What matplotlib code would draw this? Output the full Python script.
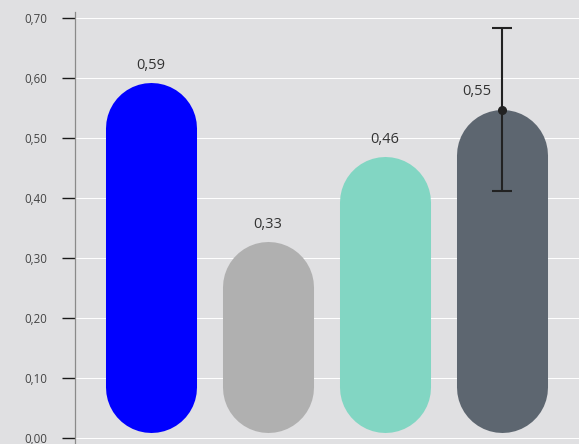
import matplotlib
matplotlib.use("Agg")
import matplotlib.pyplot as plt

plt.rcParams['font.family'] = ['Open Sans', 'DejaVu Sans']

# data
categories = ["A", "B", "C", "D"]
values = [0.593, 0.328, 0.469, 0.547]
value_labels = ["0,59", "0,33", "0,46", "0,55"]
colors = ["#0000ff", "#b0b0b0", "#82d6c3", "#5d6670"]
err_index = 3
err_size = 0.136
bar_base = 0.009
yticks = [0.0, 0.1, 0.2, 0.3, 0.4, 0.5, 0.6, 0.7]
ytick_labels = ["0,00", "0,10", "0,20", "0,30", "0,40", "0,50", "0,60", "0,70"]

W, H, DPI = 579, 444, 100
bg = "#e0e0e2"

fig = plt.figure(figsize=(W / DPI, H / DPI), dpi=DPI, facecolor=bg)
ax = fig.add_axes([75 / W, 0, 1 - 75 / W, 1 - 12 / H], facecolor=bg)
ax.set_xlim(-0.650, len(categories) - 1 + 0.658)
ax.set_ylim(-0.01, 0.71)

for s in ["top", "right", "bottom"]:
    ax.spines[s].set_visible(False)
ax.spines["left"].set_color("#8a8a8a")
ax.spines["left"].set_linewidth(0.9)

ax.set_xticks([])
ax.set_yticks(yticks)
ax.set_yticklabels(ytick_labels)
ax.tick_params(axis="y", length=9.4, width=1.0, color="#1a1a1a",
               labelsize=8.3, labelcolor="#444444", pad=10.5)
ax.grid(axis="y", color="white", linewidth=0.7)
ax.set_axisbelow(True)

# capsule bars: thick lines with round caps
bar_w = 0.778
fig.canvas.draw()
px_x = ax.transData.transform((1, 0))[0] - ax.transData.transform((0, 0))[0]
px_y = ax.transData.transform((0, 1))[1] - ax.transData.transform((0, 0))[1]
w_px = bar_w * px_x
r_data = (w_px / 2) / px_y
lw_pt = w_px * 72 / DPI

for i, (v, c) in enumerate(zip(values, colors)):
    ax.plot([i, i], [bar_base + r_data, v - r_data], color=c, lw=lw_pt,
            solid_capstyle="round", zorder=2)

# error bar on the last bar
ax.errorbar(err_index, values[err_index], yerr=err_size, fmt="o", color="#222222",
            ms=5.5, elinewidth=1.5, capsize=7.2, capthick=1.5, zorder=3)

for i, (v, lab) in enumerate(zip(values, value_labels)):
    if i == err_index:
        ax.annotate(lab, (i, v), xytext=(-8, 13), textcoords="offset points",
                    ha="right", va="center", fontsize=10.5, color="#333333")
    else:
        ax.annotate(lab, (i, v), xytext=(0, 12), textcoords="offset points",
                    ha="center", va="center", fontsize=10.5, color="#333333")

fig.savefig("out.png", dpi=DPI, facecolor=bg)
